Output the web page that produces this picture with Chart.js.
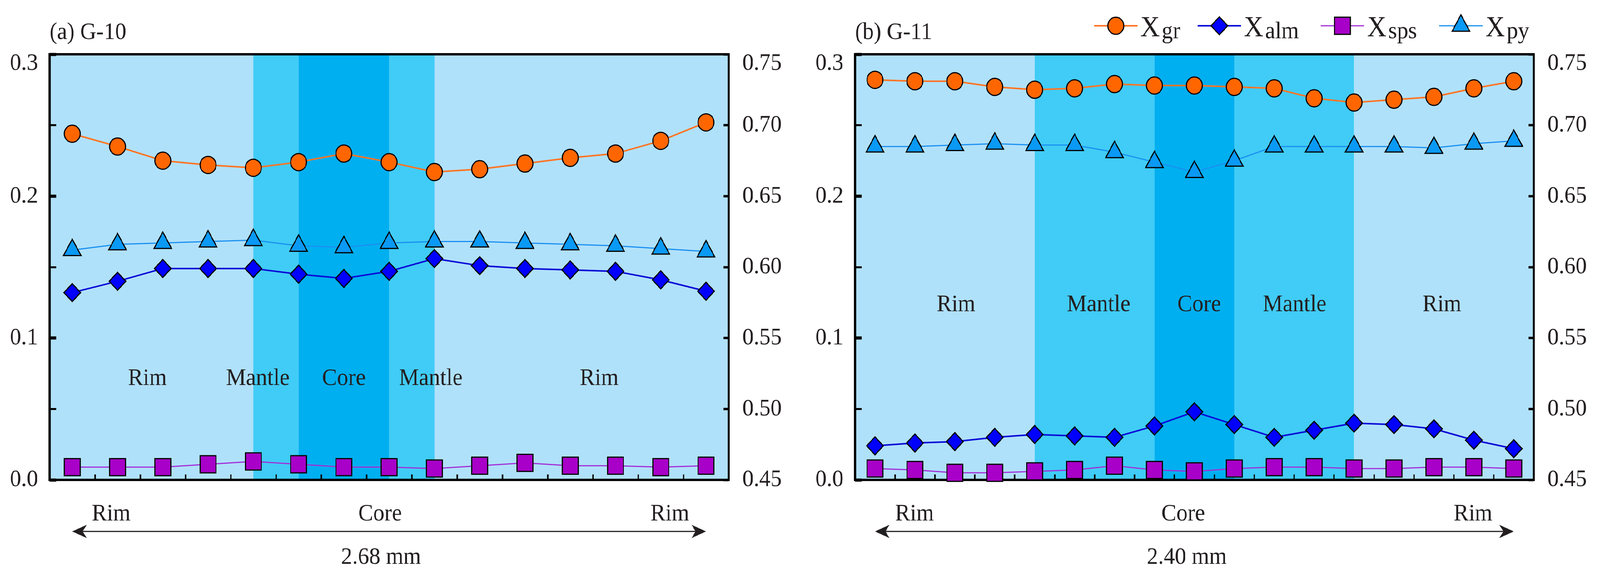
<!DOCTYPE html>
<html>
<head>
<meta charset="utf-8">
<script src="https://cdn.jsdelivr.net/npm/chart.js@4.4.1/dist/chart.umd.min.js"></script>
<style>
  html, body { margin: 0; padding: 0; background: #fff; overflow: hidden; }
  #wrap { position: relative; width: 4418px; height: 1470px; transform-origin: 0 0; }
  .panel { position: absolute; top: 0; height: 1470px; }
</style>
</head>
<body>
<div id="wrap">
  <div class="panel" style="left:0;width:2200px"><canvas id="chartA" width="2200" height="1470"></canvas></div>
  <div class="panel" style="left:2200px;width:2218px"><canvas id="chartB" width="2218" height="1470"></canvas></div>
</div>
<script>
// ---------- (a) G-10 : 15 analysis spots, rim -> core -> rim ----------
const spotsA = ['1', '2', '3', '4', '5', '6', '7', '8', '9', '10', '11', '12', '13', '14', '15'];
const grA  = [0.244, 0.235, 0.225, 0.222, 0.220, 0.224, 0.230, 0.224, 0.217, 0.219, 0.223, 0.227, 0.230, 0.239, 0.252];
const almA = [0.582, 0.590, 0.599, 0.599, 0.599, 0.595, 0.592, 0.597, 0.606, 0.601, 0.599, 0.598, 0.597, 0.591, 0.583];
const spsA = [0.009, 0.009, 0.009, 0.011, 0.013, 0.011, 0.009, 0.009, 0.008, 0.010, 0.012, 0.010, 0.010, 0.009, 0.010];
const pyA  = [0.162, 0.166, 0.167, 0.168, 0.169, 0.165, 0.164, 0.167, 0.168, 0.168, 0.167, 0.166, 0.165, 0.163, 0.161];
// zones as [from spot index, to spot index, kind]; everything else is rim
const zonesA = [[4, 5, 'mantle'], [5, 7, 'core'], [7, 8, 'mantle']];
const zoneNamesA = ['Rim', 'Mantle', 'Core', 'Mantle', 'Rim'];
const profileA = ['Rim', 'Core', 'Rim'];
const lengthA = '2.68 mm';

// ---------- (b) G-11 : 17 analysis spots ----------
const spotsB = ['1', '2', '3', '4', '5', '6', '7', '8', '9', '10', '11', '12', '13', '14', '15', '16', '17'];
const grB  = [0.282, 0.281, 0.281, 0.277, 0.275, 0.276, 0.279, 0.278, 0.278, 0.277, 0.276, 0.269, 0.266, 0.268, 0.270, 0.276, 0.281];
const almB = [0.474, 0.476, 0.477, 0.480, 0.482, 0.481, 0.480, 0.488, 0.498, 0.489, 0.480, 0.485, 0.490, 0.489, 0.486, 0.478, 0.472];
const spsB = [0.008, 0.007, 0.005, 0.005, 0.006, 0.007, 0.010, 0.007, 0.006, 0.008, 0.009, 0.009, 0.008, 0.008, 0.009, 0.009, 0.008];
const pyB  = [0.235, 0.235, 0.236, 0.237, 0.236, 0.236, 0.231, 0.224, 0.217, 0.225, 0.235, 0.235, 0.235, 0.235, 0.234, 0.237, 0.239];
const zonesB = [[4, 7, 'mantle'], [7, 9, 'core'], [9, 12, 'mantle']];
const zoneNamesB = ['Rim', 'Mantle', 'Core', 'Mantle', 'Rim'];
const profileB = ['Rim', 'Core', 'Rim'];
const lengthB = '2.40 mm';

// fit the 4418x1470 figure to whatever the viewport really is
(function fitPage() {
  const sx = (window.innerWidth || 4418) / 4418;
  const sy = (window.innerHeight || 1470) / 1470;
  document.getElementById('wrap').style.transform = 'scale(' + sx + ',' + sy + ')';
})();

const FONT = "'Liberation Serif', 'Times New Roman', serif";
const INK = '#231f20';
const ZONE_COLORS = { rim: '#b0e1fa', mantle: '#40ccf6', core: '#00aff0' };

// marker / line look of each end-member
const STYLE = {
  gr:  { sub: 'gr',  axis: 'y',  point: 'circle',   radius: 22, line: '#ff7424', fill: '#ff6600', width: 4 },
  alm: { sub: 'alm', axis: 'y2', point: 'rectRot',  radius: 23, line: '#0b0bd8', fill: '#0000ff', width: 4 },
  sps: { sub: 'sps', axis: 'y',  point: 'rect',     radius: 31, line: '#a22ed8', fill: '#a800c8', width: 3 },
  py:  { sub: 'py',  axis: 'y',  point: 'triangle', radius: 28, line: '#1a90f2', fill: '#0a99f5', width: 3 }
};

function series(key, values) {
  const s = STYLE[key];
  return {
    label: 'X' + s.sub,
    sub: s.sub,
    data: values,
    yAxisID: s.axis,
    borderColor: s.line,
    borderWidth: s.width,
    backgroundColor: s.fill,
    pointStyle: s.point,
    pointRadius: s.radius,
    pointBackgroundColor: s.fill,
    pointBorderColor: '#000',
    pointBorderWidth: 3,
    tension: 0,
    clip: false
  };
}

function leftTick(v) {
  const c = Math.round(v * 100);
  if (c % 10 !== 0) return '';
  const s = (c / 100).toFixed(1);
  return c === 30 ? ['', s] : s;   // top label sits just under the frame
}
function rightTick(v) {
  const c = Math.round(v * 100);
  const s = (c / 100).toFixed(2);
  return c === 75 ? ['', s] : s;
}

function arrowHead(ctx, tipX, y, dir) {
  const L = 40, H = 17;
  ctx.beginPath();
  ctx.moveTo(tipX, y);
  ctx.lineTo(tipX - dir * L, y - H);
  ctx.lineTo(tipX - dir * L * 0.72, y);
  ctx.lineTo(tipX - dir * L, y + H);
  ctx.closePath();
  ctx.fill();
}

const panelDecor = {
  id: 'panelDecor',
  beforeDraw(chart, args, opts) {
    const { ctx, chartArea: a, scales: { x } } = chart;
    ctx.save();
    ctx.fillStyle = ZONE_COLORS.rim;
    ctx.fillRect(a.left, a.top, a.right - a.left, a.bottom - a.top);
    opts.zones.forEach(([from, to, kind]) => {
      const x0 = x.getPixelForValue(from);
      const x1 = x.getPixelForValue(to);
      ctx.fillStyle = ZONE_COLORS[kind];
      ctx.fillRect(x0, a.top, x1 - x0, a.bottom - a.top);
    });
    ctx.restore();
  },
  beforeDatasetsDraw(chart, args, opts) {
    const { ctx, chartArea: a, scales: { x, y } } = chart;
    ctx.save();
    // zone names inside the plot
    ctx.fillStyle = INK;
    ctx.font = '62px ' + FONT;
    ctx.textAlign = 'center';
    ctx.textBaseline = 'alphabetic';
    const ty = y.getPixelForValue(opts.zoneNameY);
    opts.zoneNames.forEach((name, i) => {
      ctx.fillText(name, x.getPixelForValue(opts.zoneNameAt[i]), ty);
    });
    // frame
    ctx.strokeStyle = '#000';
    ctx.lineWidth = 6;
    ctx.strokeRect(a.left, a.top, a.right - a.left, a.bottom - a.top);
    ctx.restore();
  },
  afterDraw(chart, args, opts) {
    const { ctx, chartArea: a, scales: { x } } = chart;
    ctx.save();
    ctx.fillStyle = INK;
    ctx.strokeStyle = INK;
    ctx.font = '62px ' + FONT;
    ctx.textBaseline = 'alphabetic';

    // panel title
    ctx.textAlign = 'left';
    ctx.fillText(opts.title, a.left, a.top - 39);

    // rim - core - rim profile under the axis
    ctx.textAlign = 'center';
    opts.profile.forEach((t, i) => {
      ctx.fillText(t, x.getPixelForValue(opts.profileAt[i]), a.bottom + 104);
    });
    const ay = a.bottom + 132;
    const xl = x.getPixelForValue(opts.arrow[0]);
    const xr = x.getPixelForValue(opts.arrow[1]);
    ctx.lineWidth = 3;
    ctx.beginPath();
    ctx.moveTo(xl + 20, ay);
    ctx.lineTo(xr - 20, ay);
    ctx.stroke();
    arrowHead(ctx, xl, ay, -1);
    arrowHead(ctx, xr, ay, 1);
    ctx.fillText(opts.lengthText, x.getPixelForValue(opts.lengthAt), a.bottom + 215);

    // legend (only on the right panel)
    if (opts.legend) {
      const ly = 66;
      chart.data.datasets.forEach((ds, i) => {
        const x0 = opts.legendAt[i];
        ctx.strokeStyle = ds.borderColor;
        ctx.lineWidth = ds.borderWidth;
        ctx.beginPath();
        ctx.moveTo(x0, ly);
        ctx.lineTo(x0 + 120, ly);
        ctx.stroke();
        ctx.fillStyle = ds.pointBackgroundColor;
        ctx.strokeStyle = ds.pointBorderColor;
        ctx.lineWidth = ds.pointBorderWidth;
        Chart.helpers.drawPoint(ctx, {
          pointStyle: ds.pointStyle, radius: ds.pointRadius, rotation: 0, borderWidth: ds.pointBorderWidth
        }, x0 + 60, ly);
        ctx.fillStyle = INK;
        ctx.textAlign = 'left';
        ctx.font = '74px ' + FONT;
        const tx = x0 + 128;
        ctx.fillText('X', tx, 93);
        const w = ctx.measureText('X').width;
        ctx.font = '62px ' + FONT;
        ctx.fillText(ds.sub, tx + w + 5, 98);
      });
    }
    ctx.restore();
  }
};

function makePanel(p) {
  const tickFont = { family: FONT, size: 62, lineHeight: 0.75 };
  return new Chart(document.getElementById(p.canvas), {
    type: 'line',
    data: {
      labels: p.spots,
      datasets: [series('gr', p.gr), series('alm', p.alm), series('sps', p.sps), series('py', p.py)]
    },
    options: {
      responsive: false,
      devicePixelRatio: 1,
      animation: false,
      events: [],
      layout: { padding: { top: 139, left: 0, right: 0, bottom: 0 } },
      scales: {
        x: {
          type: 'category',
          offset: true,
          border: { display: false },
          grid: { offset: true, drawOnChartArea: false, tickLength: -14, tickWidth: 4, tickColor: '#000' },
          ticks: { display: false, autoSkip: false },
          afterFit: (s) => { s.height = 241; }
        },
        y: {
          position: 'left',
          min: 0, max: 0.3,
          border: { display: false },
          grid: {
            drawOnChartArea: false, tickLength: -18, tickColor: '#000',
            tickWidth: (c) => (Math.round(c.tick.value * 100) % 10 === 0 ? 8 : 5)
          },
          ticks: { stepSize: 0.05, callback: leftTick, padding: 50, color: INK, font: tickFont, autoSkip: false },
          afterFit: (s) => { s.width = p.leftW; }
        },
        y2: {
          position: 'right',
          min: 0.45, max: 0.75,
          border: { display: false },
          grid: { drawOnChartArea: false, tickLength: -14, tickWidth: 6, tickColor: '#000' },
          ticks: { stepSize: 0.05, callback: rightTick, padding: 52, color: INK, font: tickFont, autoSkip: false },
          afterFit: (s) => { s.width = p.rightW; }
        }
      },
      plugins: {
        legend: { display: false },
        tooltip: { enabled: false },
        panelDecor: {
          title: p.title,
          zones: p.zones,
          zoneNames: p.zoneNames,
          zoneNameAt: p.zoneNameAt,
          zoneNameY: p.zoneNameY,
          profile: p.profile,
          profileAt: p.profileAt,
          arrow: p.arrow,
          lengthText: p.lengthText,
          lengthAt: p.lengthAt,
          legend: p.legend,
          legendAt: p.legendAt
        }
      }
    },
    plugins: [panelDecor]
  });
}

makePanel({
  canvas: 'chartA', title: '(a) G-10', spots: spotsA,
  gr: grA, alm: almA, sps: spsA, py: pyA,
  zones: zonesA, zoneNames: zoneNamesA, zoneNameAt: [1.66, 4.1, 6.0, 7.92, 11.64], zoneNameY: 0.067,
  profile: profileA, profileAt: [0.86, 6.8, 13.2], arrow: [0, 14], lengthText: lengthA, lengthAt: 6.82,
  leftW: 137, rightW: 188, legend: false
});

makePanel({
  canvas: 'chartB', title: '(b) G-11', spots: spotsB,
  gr: grB, alm: almB, sps: spsB, py: pyB,
  zones: zonesB, zoneNames: zoneNamesB, zoneNameAt: [2.03, 5.6, 8.12, 10.51, 14.2], zoneNameY: 0.119,
  profile: profileB, profileAt: [0.99, 7.72, 14.98], arrow: [0, 16], lengthText: lengthB, lengthAt: 7.81,
  leftW: 161, rightW: 183, legend: true, legendAt: [821, 1107, 1447, 1774]
});
</script>
</body>
</html>
